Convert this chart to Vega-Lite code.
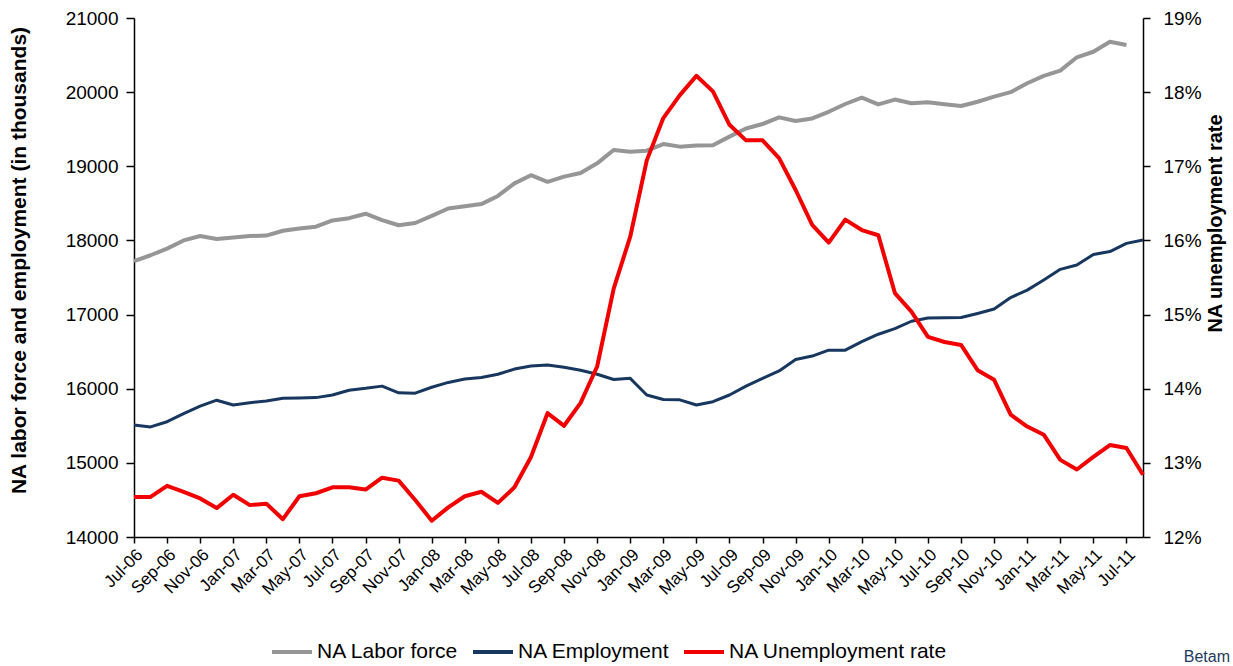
{
  "$schema": "https://vega.github.io/schema/vega-lite/v6.json",
  "autosize": "none",
  "width": 1009,
  "height": 519,
  "padding": {"left": 134, "top": 18, "right": 90, "bottom": 129},
  "background": "white",
  "title": {"text": "Betam", "orient": "bottom", "anchor": "end", "frame": "group", "dx": 87, "offset": -13, "fontSize": 16, "fontWeight": "normal", "color": "#1F3A60", "font": "Liberation Sans"},
  "config": {
    "view": {"stroke": null},
    "font": "Liberation Sans",
    "axis": {"grid": false, "domainColor": "black", "tickColor": "black", "labelColor": "black", "titleColor": "black", "labelFont": "Liberation Sans", "titleFont": "Liberation Sans", "domainWidth": 1.5, "tickWidth": 1.5}
  },
  "data": {"values": [
    {"m": "Jul-06", "lf": 17720, "emp": 15510, "ur": 12.54},
    {"m": "Aug-06", "lf": 17800, "emp": 15485, "ur": 12.54},
    {"m": "Sep-06", "lf": 17890, "emp": 15555, "ur": 12.69},
    {"m": "Oct-06", "lf": 18000, "emp": 15665, "ur": 12.61},
    {"m": "Nov-06", "lf": 18060, "emp": 15765, "ur": 12.52},
    {"m": "Dec-06", "lf": 18020, "emp": 15845, "ur": 12.39},
    {"m": "Jan-07", "lf": 18040, "emp": 15780, "ur": 12.57},
    {"m": "Feb-07", "lf": 18060, "emp": 15810, "ur": 12.43},
    {"m": "Mar-07", "lf": 18065, "emp": 15835, "ur": 12.45},
    {"m": "Apr-07", "lf": 18130, "emp": 15870, "ur": 12.24},
    {"m": "May-07", "lf": 18160, "emp": 15875, "ur": 12.55},
    {"m": "Jun-07", "lf": 18185, "emp": 15880, "ur": 12.59},
    {"m": "Jul-07", "lf": 18270, "emp": 15915, "ur": 12.67},
    {"m": "Aug-07", "lf": 18300, "emp": 15980, "ur": 12.67},
    {"m": "Sep-07", "lf": 18360, "emp": 16005, "ur": 12.64},
    {"m": "Oct-07", "lf": 18275, "emp": 16035, "ur": 12.8},
    {"m": "Nov-07", "lf": 18205, "emp": 15945, "ur": 12.76},
    {"m": "Dec-07", "lf": 18235, "emp": 15940, "ur": 12.5},
    {"m": "Jan-08", "lf": 18330, "emp": 16020, "ur": 12.22},
    {"m": "Feb-08", "lf": 18430, "emp": 16085, "ur": 12.4},
    {"m": "Mar-08", "lf": 18460, "emp": 16130, "ur": 12.55},
    {"m": "Apr-08", "lf": 18490, "emp": 16150, "ur": 12.61},
    {"m": "May-08", "lf": 18600, "emp": 16195, "ur": 12.46},
    {"m": "Jun-08", "lf": 18770, "emp": 16265, "ur": 12.67},
    {"m": "Jul-08", "lf": 18880, "emp": 16305, "ur": 13.08},
    {"m": "Aug-08", "lf": 18790, "emp": 16320, "ur": 13.67},
    {"m": "Sep-08", "lf": 18860, "emp": 16290, "ur": 13.5},
    {"m": "Oct-08", "lf": 18910, "emp": 16250, "ur": 13.81},
    {"m": "Nov-08", "lf": 19040, "emp": 16195, "ur": 14.3},
    {"m": "Dec-08", "lf": 19220, "emp": 16125, "ur": 15.35},
    {"m": "Jan-09", "lf": 19195, "emp": 16140, "ur": 16.05},
    {"m": "Feb-09", "lf": 19210, "emp": 15915, "ur": 17.08},
    {"m": "Mar-09", "lf": 19300, "emp": 15855, "ur": 17.65},
    {"m": "Apr-09", "lf": 19265, "emp": 15850, "ur": 17.96},
    {"m": "May-09", "lf": 19280, "emp": 15780, "ur": 18.22},
    {"m": "Jun-09", "lf": 19285, "emp": 15825, "ur": 18.01},
    {"m": "Jul-09", "lf": 19400, "emp": 15915, "ur": 17.56},
    {"m": "Aug-09", "lf": 19510, "emp": 16035, "ur": 17.35},
    {"m": "Sep-09", "lf": 19570, "emp": 16140, "ur": 17.35},
    {"m": "Oct-09", "lf": 19660, "emp": 16240, "ur": 17.11},
    {"m": "Nov-09", "lf": 19610, "emp": 16395, "ur": 16.68},
    {"m": "Dec-09", "lf": 19645, "emp": 16440, "ur": 16.21},
    {"m": "Jan-10", "lf": 19735, "emp": 16520, "ur": 15.97},
    {"m": "Feb-10", "lf": 19840, "emp": 16520, "ur": 16.28},
    {"m": "Mar-10", "lf": 19925, "emp": 16635, "ur": 16.14},
    {"m": "Apr-10", "lf": 19835, "emp": 16735, "ur": 16.07},
    {"m": "May-10", "lf": 19900, "emp": 16810, "ur": 15.29},
    {"m": "Jun-10", "lf": 19850, "emp": 16910, "ur": 15.04},
    {"m": "Jul-10", "lf": 19865, "emp": 16955, "ur": 14.7},
    {"m": "Aug-10", "lf": 19838, "emp": 16958, "ur": 14.63},
    {"m": "Sep-10", "lf": 19813, "emp": 16960, "ur": 14.59},
    {"m": "Oct-10", "lf": 19870, "emp": 17015, "ur": 14.25},
    {"m": "Nov-10", "lf": 19940, "emp": 17075, "ur": 14.12},
    {"m": "Dec-10", "lf": 20000, "emp": 17230, "ur": 13.65},
    {"m": "Jan-11", "lf": 20120, "emp": 17330, "ur": 13.49},
    {"m": "Feb-11", "lf": 20220, "emp": 17466, "ur": 13.38},
    {"m": "Mar-11", "lf": 20290, "emp": 17610, "ur": 13.04},
    {"m": "Apr-11", "lf": 20470, "emp": 17668, "ur": 12.91},
    {"m": "May-11", "lf": 20545, "emp": 17810, "ur": 13.08},
    {"m": "Jun-11", "lf": 20680, "emp": 17850, "ur": 13.24},
    {"m": "Jul-11", "lf": 20635, "emp": 17960, "ur": 13.2},
    {"m": "Aug-11", "emp": 18005, "ur": 12.84}
  ]},
  "encoding": {
    "x": {
      "field": "m", "type": "ordinal", "sort": null,
      "scale": {"type": "point", "padding": 0, "domain": ["Jul-06","Aug-06","Sep-06","Oct-06","Nov-06","Dec-06","Jan-07","Feb-07","Mar-07","Apr-07","May-07","Jun-07","Jul-07","Aug-07","Sep-07","Oct-07","Nov-07","Dec-07","Jan-08","Feb-08","Mar-08","Apr-08","May-08","Jun-08","Jul-08","Aug-08","Sep-08","Oct-08","Nov-08","Dec-08","Jan-09","Feb-09","Mar-09","Apr-09","May-09","Jun-09","Jul-09","Aug-09","Sep-09","Oct-09","Nov-09","Dec-09","Jan-10","Feb-10","Mar-10","Apr-10","May-10","Jun-10","Jul-10","Aug-10","Sep-10","Oct-10","Nov-10","Dec-10","Jan-11","Feb-11","Mar-11","Apr-11","May-11","Jun-11","Jul-11","Aug-11"]},
      "axis": {"title": null, "values": ["Jul-06","Sep-06","Nov-06","Jan-07","Mar-07","May-07","Jul-07","Sep-07","Nov-07","Jan-08","Mar-08","May-08","Jul-08","Sep-08","Nov-08","Jan-09","Mar-09","May-09","Jul-09","Sep-09","Nov-09","Jan-10","Mar-10","May-10","Jul-10","Sep-10","Nov-10","Jan-11","Mar-11","May-11","Jul-11"], "labelAngle": -45, "labelFontSize": 17, "tickSize": 6, "labelPadding": 3}
    }
  },
  "layer": [
    {
      "layer": [
        {
          "mark": {"type": "line", "strokeWidth": 4, "strokeJoin": "round"},
          "encoding": {
            "y": {"field": "lf", "type": "quantitative", "scale": {"domain": [14000, 21000], "nice": false, "zero": false},
              "axis": {"title": "NA labor force and employment (in thousands)", "values": [14000,14500,15000,15500,16000,16500,17000,17500,18000,18500,19000,19500,20000,20500,21000], "format": "d", "labelFontSize": 19, "tickSize": 8, "labelPadding": 8, "titleFontSize": 21, "titleFontWeight": "bold", "titlePadding": 36, "titleY": 242}},
            "color": {"datum": "NA Labor force", "type": "nominal",
              "scale": {"domain": ["NA Labor force", "NA Employment", "NA Unemployment rate"], "range": ["#969696", "#17375E", "#F00000"]},
              "legend": {"title": null, "orient": "none", "direction": "horizontal", "legendX": 136, "legendY": 612, "symbolType": "stroke", "symbolSize": 1600, "symbolStrokeWidth": 4, "labelFontSize": 21, "labelLimit": 400, "labelColor": "black", "labelOffset": 3, "columnPadding": 6, "labelFont": "Liberation Sans"}}
          }
        },
        {
          "mark": {"type": "line", "strokeWidth": 3, "strokeJoin": "round"},
          "encoding": {
            "y": {"field": "emp", "type": "quantitative", "axis": {"title": "NA labor force and employment (in thousands)"}},
            "color": {"datum": "NA Employment", "type": "nominal"}
          }
        }
      ]
    },
    {
      "mark": {"type": "line", "strokeWidth": 4, "strokeJoin": "round"},
      "encoding": {
        "y": {"field": "ur", "type": "quantitative", "scale": {"domain": [12, 19], "nice": false, "zero": false},
          "axis": {"orient": "right", "title": "NA unemployment rate", "values": [12,13,14,15,16,17,18,19], "labelExpr": "datum.value + '%'", "labelFontSize": 19, "tickSize": 7, "labelPadding": 13, "titleFontSize": 20, "titleFontWeight": "bold", "titleAngle": 270, "titleBaseline": "top", "titlePadding": 4, "titleY": 205}},
        "color": {"datum": "NA Unemployment rate", "type": "nominal"}
      }
    }
  ],
  "resolve": {"scale": {"y": "independent"}}
}
